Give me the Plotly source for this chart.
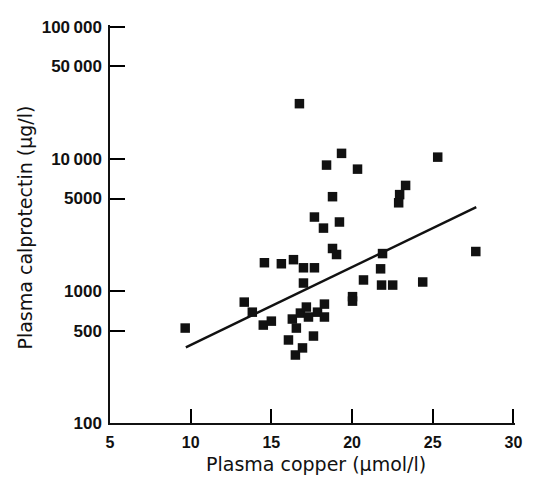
import plotly.graph_objects as go

# -- Plasma copper (umol/l) vs plasma calprotectin (ug/l), one point per patient
copper = [
    9.66, 13.32, 13.82, 14.50, 15.00, 14.57, 15.62, 16.37, 16.99, 17.67,
    16.99, 16.74, 18.42, 19.35, 20.34, 25.31, 23.32, 22.95, 22.89, 18.79,
    17.67, 18.23, 19.22, 18.79, 19.04, 21.89, 21.77, 20.71, 21.83, 22.52,
    24.38, 27.67, 20.03, 20.03, 16.30, 16.55, 16.06, 16.93, 16.49, 17.61,
    16.80, 17.17, 17.30, 17.86, 18.29, 18.29,
]
calprotectin = [
    523, 822, 690, 551, 590, 1633, 1604, 1722, 1495, 1495,
    1146, 26100, 8950, 10980, 8340, 10280, 6280, 5350, 4640, 5160,
    3620, 2985, 3320, 2093, 1884, 1915, 1468, 1209, 1106, 1106,
    1167, 1985, 904, 836, 612, 523, 425, 370, 327, 455,
    679, 754, 634, 690, 794, 634,
]

# -- Regression line end points
fit_copper = [9.7, 27.7]
fit_calprotectin = [374, 4300]

# -- Axis ticks
x_ticks = [5, 10, 15, 20, 25, 30]
y_ticks = [100, 500, 1000, 5000, 10000, 50000, 100000]
y_tick_labels = ["100", "500", "1000", "5000", "10\u2009000", "50\u2009000", "100\u2009000"]

TICK_FONT = "Liberation Sans, Arial, Helvetica, sans-serif"
TITLE_FONT = "DejaVu Sans, Verdana, sans-serif"
INK = "#111111"

fig = go.Figure()

fig.add_trace(
    go.Scatter(
        x=fit_copper,
        y=fit_calprotectin,
        mode="lines",
        line=dict(color=INK, width=2.4),
        showlegend=False,
    )
)

fig.add_trace(
    go.Scatter(
        x=copper,
        y=calprotectin,
        mode="markers",
        marker=dict(symbol="square", size=9.5, color=INK, line=dict(width=0)),
        showlegend=False,
        cliponaxis=False,
    )
)

# -- Ranges run a hair past 30 and 100 000 so plotly keeps the end ticks
fig.update_xaxes(
    range=[5, 30.1],
    tickmode="array",
    tickvals=x_ticks,
    ticks="inside",
    ticklen=14,
    tickwidth=1.6,
    tickcolor="black",
    showline=True,
    linewidth=1.5,
    linecolor=INK,
    showgrid=False,
    zeroline=False,
    tickfont=dict(family=TICK_FONT, size=16, color=INK, weight="bold"),
    ticklabelstandoff=4,
)

fig.update_yaxes(
    type="log",
    range=[2, 5.012],
    tickmode="array",
    tickvals=y_ticks,
    ticktext=y_tick_labels,
    ticks="inside",
    ticklen=15,
    tickwidth=1.6,
    tickcolor="black",
    showline=True,
    linewidth=1.5,
    linecolor=INK,
    showgrid=False,
    zeroline=False,
    tickfont=dict(family=TICK_FONT, size=17, color=INK, weight="bold"),
    ticklabelstandoff=3,
)

# -- Axis titles as annotations so they can sit where the original has them
fig.add_annotation(
    text="Plasma copper (\u00b5mol/l)",
    xref="paper", yref="paper",
    x=0.508, y=-0.104,
    xanchor="center", yanchor="middle",
    showarrow=False,
    font=dict(family=TITLE_FONT, size=19, color=INK),
)
fig.add_annotation(
    text="Plasma calprotectin (\u00b5g/l)",
    xref="paper", yref="paper",
    x=-0.211, y=0.49,
    xanchor="center", yanchor="middle",
    textangle=-90,
    showarrow=False,
    font=dict(family=TITLE_FONT, size=19, color=INK),
)

# -- The page body adds 8px around the figure, so the figure is made smaller
fig.update_layout(
    width=531,
    height=469,
    margin=dict(l=102, r=24, t=10, b=54),
    paper_bgcolor="white",
    plot_bgcolor="white",
)

fig.write_html("out.html")
